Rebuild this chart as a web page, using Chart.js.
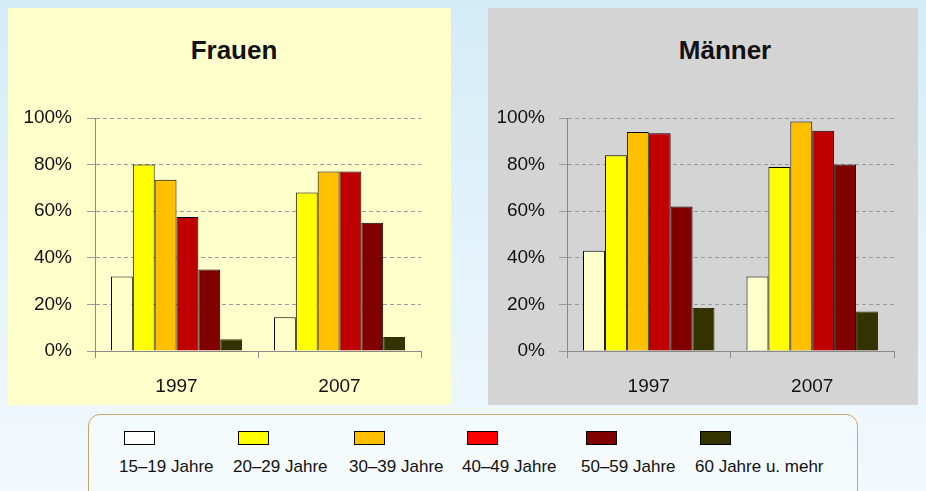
<!DOCTYPE html>
<html>
<head>
<meta charset="utf-8">
<script src="https://cdn.jsdelivr.net/npm/chart.js@4.4.1/dist/chart.umd.min.js"></script>
<style>
  body {
    margin: 0; width: 926px; height: 491px; overflow: hidden; position: relative;
    background: linear-gradient(#d3ecf7, #f3f9fd);
    font-family: 'Liberation Sans', Arial, sans-serif;
  }
  .panel { position: absolute; top: 8px; height: 397px; }
  #p1 { left: 8px; width: 443px; background: #ffffcc; }
  #p2 { left: 488px; width: 430px; background: #d4d4d4; }
  .title {
    position: absolute; top: 35px; width: 200px; margin-left: -100px; text-align: center;
    font-size: 26px; font-weight: bold; color: #111; line-height: 30px;
  }
  canvas { position: absolute; top: 8px; }
  #c1 { left: 8px; }
  #c2 { left: 488px; }
  #legend {
    position: absolute; left: 88px; top: 414px; width: 768px; height: 100px;
    border: 1.5px solid #c9a66b; border-radius: 12px; background: #f5fafc;
  }
  .item { position: absolute; top: 0; }
  .item .box { position: absolute; left: 5px; top: 16px; width: 29px; height: 12px; border: 1px solid #000; }
  .item .lbl { position: absolute; left: 0; top: 42px; font-size: 17px; color: #111; white-space: nowrap; }
</style>
</head>
<body>
<div class="panel" id="p1"></div>
<div class="panel" id="p2"></div>
<div class="title" style="left:234px">Frauen</div>
<div class="title" style="left:725px">Männer</div>
<canvas id="c1" width="416" height="397"></canvas>
<canvas id="c2" width="409" height="397"></canvas>
<div id="legend"></div>

<script>
// Erwerbstätigenquote nach Altersgruppen (Werte in %)
const years = ['1997', '2007'];
const ageGroups = ['15\u201319 Jahre', '20\u201329 Jahre', '30\u201339 Jahre', '40\u201349 Jahre', '50\u201359 Jahre', '60 Jahre u. mehr'];

const frauen1997 = [32, 80, 73.5, 57.5, 35, 5];
const frauen2007 = [14.5, 68, 77, 77, 55, 6];
const maenner1997 = [43, 84, 94, 93.5, 62, 18.5];
const maenner2007 = [32, 79, 98.5, 94.5, 80, 17];

const yTicks = [0, 20, 40, 60, 80, 100];

const barColors = ['#ffffcc', '#ffff00', '#ffc000', '#c00000', '#800000', '#333300'];
const legendColors = ['#ffffff', '#ffff00', '#ffc000', '#ff0000', '#800000', '#333300'];

const tickFont = { size: 19, family: "'Liberation Sans', Arial, sans-serif" };

function makeChart(id, v1997, v2007, yWidth, yPad) {
    const datasets = ageGroups.map((g, i) => ({
        label: g,
        data: [v1997[i], v2007[i]],
        backgroundColor: barColors[i],
        borderColor: i === 5 ? '#333300' : '#000000',
        borderWidth: 1,
        categoryPercentage: 0.804,
        barPercentage: 1
    }));

    new Chart(document.getElementById(id), {
        type: 'bar',
        data: { labels: years, datasets },
        options: {
            responsive: false,
            animation: false,
            layout: { padding: { left: 0, right: 3, top: 110, bottom: 0 } },
            plugins: {
                legend: { display: false },
                tooltip: { enabled: false }
            },
            scales: {
                x: {
                    grid: { display: true, drawOnChartArea: false, offset: true, tickLength: 7, color: '#8a8a8a' },
                    border: { color: '#8a8a8a' },
                    ticks: { color: '#111', padding: 17, font: tickFont },
                    afterFit: s => { s.height = 54; }
                },
                y: {
                    min: 0, max: 100,
                    afterBuildTicks: s => { s.ticks = yTicks.map(v => ({ value: v })); },
                    grid: { color: '#9a9a9a', tickLength: 8, tickColor: '#9a9a9a' },
                    border: { color: '#8a8a8a', dash: [4, 3] },
                    ticks: { color: '#111', padding: yPad, font: tickFont, callback: v => v + '%' },
                    afterFit: s => { s.width = yWidth; }
                }
            }
        }
    });
}

makeChart('c1', frauen1997, frauen2007, 87, 15);
makeChart('c2', maenner1997, maenner2007, 79, 14);

// gemeinsame Legende
const legendX = [30, 144, 260, 373, 492, 606];
const legend = document.getElementById('legend');
ageGroups.forEach((g, i) => {
    const item = document.createElement('div');
    item.className = 'item';
    item.style.left = legendX[i] + 'px';
    item.innerHTML = '<div class="box" style="background:' + legendColors[i] + '"></div><div class="lbl">' + g + '</div>';
    legend.appendChild(item);
});
</script>
</body>
</html>
